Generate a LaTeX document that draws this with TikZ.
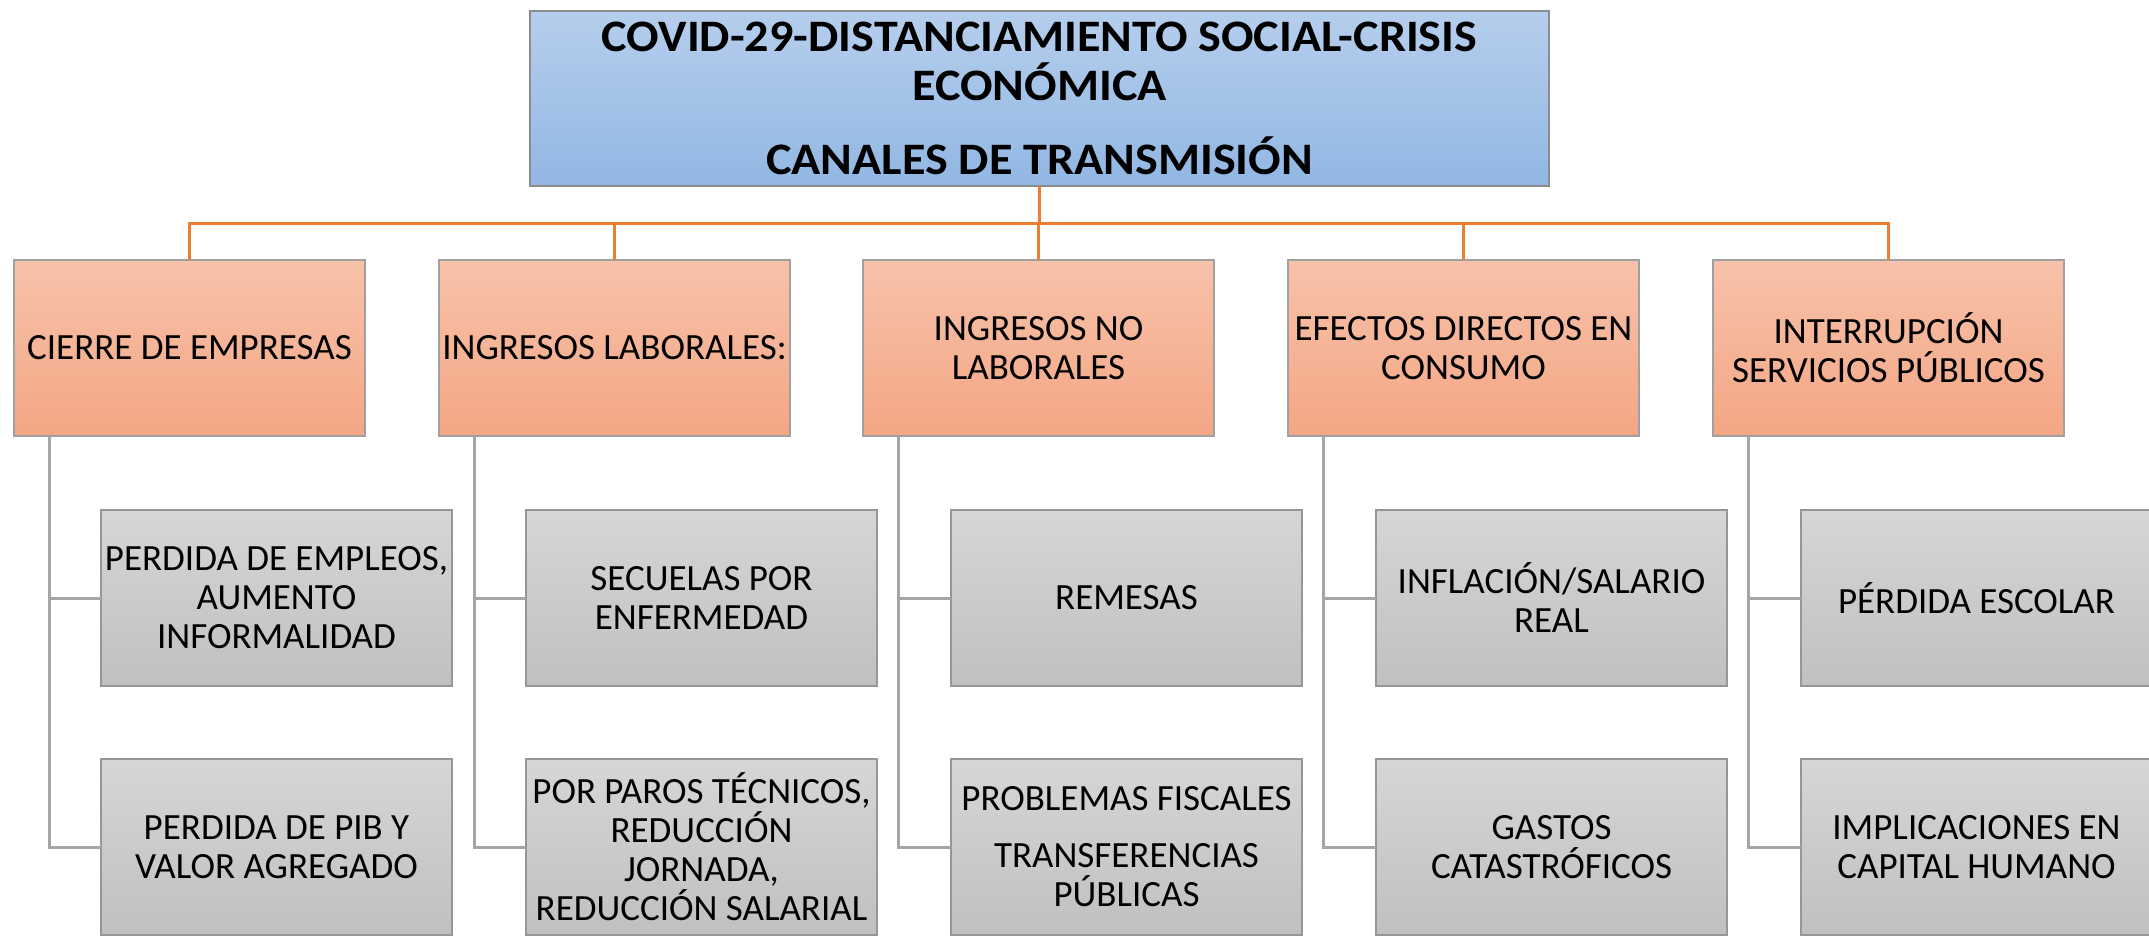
\documentclass[tikz,border=0pt]{standalone}
\usepackage{fontspec}
\setmainfont{Carlito}
\newfontfamily\titlefont{Carlito}[FakeStretch=1.07]
\definecolor{hdrtop}{RGB}{182,206,237}
\definecolor{hdrbot}{RGB}{145,183,227}
\definecolor{hdrborder}{RGB}{140,140,140}
\definecolor{cattop}{RGB}{247,194,170}
\definecolor{catbot}{RGB}{244,166,132}
\definecolor{catborder}{RGB}{160,160,160}
\definecolor{subtop}{RGB}{214,214,214}
\definecolor{subbot}{RGB}{192,192,192}
\definecolor{subborder}{RGB}{150,150,150}
\definecolor{busc}{RGB}{237,125,49}
\definecolor{linegray}{RGB}{165,165,165}
\begin{document}
\begin{tikzpicture}[x=1pt,y=-1pt,
  every node/.style={inner xsep=1pt, inner ysep=2pt, outer sep=0pt, align=center, anchor=north west},
  hdr/.style={draw=hdrborder, line width=1.5pt, top color=hdrtop, bottom color=hdrbot,
    minimum width=1019pt, minimum height=175pt, font=\titlefont\bfseries\fontsize{45}{49}\selectfont},
  cat/.style={draw=catborder, line width=1.5pt, top color=cattop, bottom color=catbot,
    minimum width=351pt, minimum height=176pt, font=\fontsize{37}{39}\selectfont},
  sub/.style={draw=subborder, line width=1.5pt, top color=subtop, bottom color=subbot,
    minimum width=351pt, minimum height=176pt, font=\fontsize{37}{39}\selectfont},
  busline/.style={draw=busc, line width=3pt},
  subline/.style={draw=linegray, line width=3pt}]
\clip (0,0) rectangle (2149,935);
\fill[white] (0,0) rectangle (2149,935);

% title
\node[hdr] (t) at (530,11) {COVID-29-DISTANCIAMIENTO SOCIAL-CRISIS\\ECONÓMICA\\[25pt]CANALES DE TRANSMISIÓN};

% level 1
\node[cat] (c1) at (14,260)   {CIERRE DE EMPRESAS};
\node[cat] (c2) at (439,260)  {INGRESOS LABORALES:};
\node[cat] (c3) at (863,260)  {INGRESOS NO\\LABORALES};
\node[cat] (c4) at (1288,260) {EFECTOS DIRECTOS EN\\CONSUMO};
\node[cat] (c5) at (1713,260) {INTERRUPCIÓN\\SERVICIOS PÚBLICOS};

% level 2
\node[sub] (s11) at (101,510)  {PERDIDA DE EMPLEOS,\\AUMENTO\\INFORMALIDAD};
\node[sub] (s12) at (101,759)  {PERDIDA DE PIB Y\\VALOR AGREGADO};
\node[sub] (s21) at (526,510)  {SECUELAS POR\\ENFERMEDAD};
\node[sub] (s22) at (526,759)  {POR PAROS TÉCNICOS,\\REDUCCIÓN\\JORNADA,\\REDUCCIÓN SALARIAL};
\node[sub] (s31) at (951,510)  {REMESAS};
\node[sub] (s32) at (951,759)  {PROBLEMAS FISCALES\\[18pt]TRANSFERENCIAS\\PÚBLICAS};
\node[sub] (s41) at (1376,510) {INFLACIÓN/SALARIO\\REAL};
\node[sub] (s42) at (1376,759) {GASTOS\\CATASTRÓFICOS};
\node[sub] (s51) at (1801,510) {PÉRDIDA ESCOLAR};
\node[sub] (s52) at (1801,759) {IMPLICACIONES EN\\CAPITAL HUMANO};

% orange bus
\coordinate (bus) at (1039.5,223);
\draw[busline] (t.south) -- (bus);
\foreach \c in {c1,c2,c3,c4,c5}{
  \draw[busline] (bus) -| (\c.north);
}

% grey connectors
\foreach \i in {1,...,5}{
  \draw[subline] ([xshift=35pt]c\i.south west) |- (s\i1.west);
  \draw[subline] ([xshift=35pt]c\i.south west) |- (s\i2.west);
}
\end{tikzpicture}
\end{document}
